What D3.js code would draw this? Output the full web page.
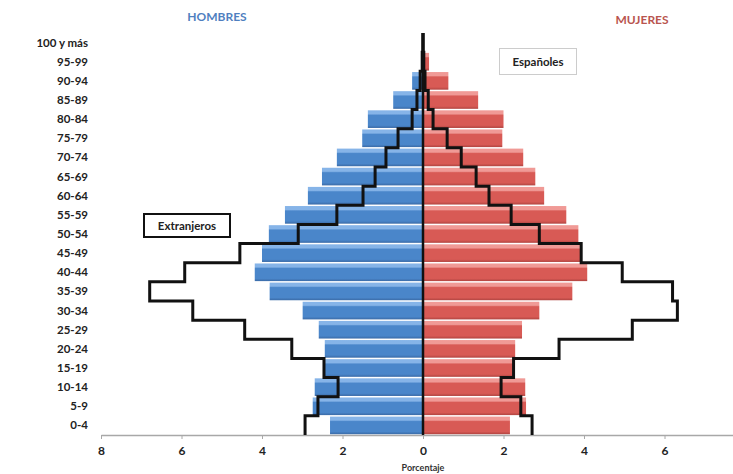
<!DOCTYPE html>
<html>
<head>
<meta charset="utf-8">
<script src="https://cdn.jsdelivr.net/npm/d3@7"></script>
<style>
  body { margin: 0; background: #fff; }
  svg { display: block; font-family: Lato, "Open Sans", sans-serif; }
</style>
</head>
<body>
<svg id="canvas" width="733" height="474"></svg>
<script>
// grupos de edad, de abajo hacia arriba
let ages = ["0-4", "5-9", "10-14", "15-19", "20-24", "25-29", "30-34", "35-39", "40-44", "45-49",
    "50-54", "55-59", "60-64", "65-69", "70-74", "75-79", "80-84", "85-89", "90-94", "95-99", "100 y más"];

// porcentaje, españoles (barras)
let hombresEsp = [2.31, 2.74, 2.69, 2.44, 2.44, 2.59, 2.99, 3.81, 4.18, 4.00, 3.83, 3.43, 2.86, 2.51, 2.14, 1.51, 1.37, 0.74, 0.27, 0.05, 0.01];
let mujeresEsp = [2.16, 2.56, 2.54, 2.24, 2.29, 2.46, 2.89, 3.71, 4.08, 3.95, 3.86, 3.56, 3.01, 2.79, 2.49, 1.97, 2.00, 1.37, 0.63, 0.15, 0.02];

// porcentaje, extranjeros (línea escalonada)
let hombresExt = [2.93, 2.61, 2.11, 2.46, 3.26, 4.43, 5.72, 6.79, 5.92, 4.55, 3.10, 2.14, 1.49, 1.19, 0.92, 0.62, 0.27, 0.15, 0.07, 0.02, 0];
let mujeresExt = [2.71, 2.43, 1.94, 2.25, 3.38, 5.20, 6.32, 6.20, 4.95, 3.93, 2.89, 2.19, 1.64, 1.32, 0.95, 0.60, 0.25, 0.13, 0.05, 0.02, 0];

let xTicks = [-8, -6, -4, -2, 0, 2, 4, 6];

let canvas = d3.select("#canvas");

let x = d3.scaleLinear().domain([-8, 8]).range([101, 745]);
let y = d3.scaleBand().domain(ages).range([435, 33]);

// degradados para el efecto de bisel
let defs = canvas.append("defs");
let makeGrad = (id, light, main, dark) => {
    let g = defs.append("linearGradient").attr("id", id)
        .attr("x1", 0).attr("y1", 0).attr("x2", 0).attr("y2", 1);
    g.append("stop").attr("offset", "0%").attr("stop-color", light);
    g.append("stop").attr("offset", "20%").attr("stop-color", light);
    g.append("stop").attr("offset", "28%").attr("stop-color", main);
    g.append("stop").attr("offset", "85%").attr("stop-color", main);
    g.append("stop").attr("offset", "100%").attr("stop-color", dark);
};
makeGrad("gBlue", "#86b4e8", "#4a86ca", "#3a6aa6");
makeGrad("gRed", "#f09a96", "#d85a55", "#b04440");

let pad = 1.5;
let bh = y.bandwidth() - pad;

canvas.selectAll(".hombre")
    .data(ages)
    .enter()
    .append("rect")
    .attr("class", "hombre")
    .attr("x", (d, i) => x(-hombresEsp[i]))
    .attr("y", (d) => y(d) + pad / 2)
    .attr("width", (d, i) => x(0) - x(-hombresEsp[i]))
    .attr("height", bh)
    .attr("fill", "url(#gBlue)");

canvas.selectAll(".mujer")
    .data(ages)
    .enter()
    .append("rect")
    .attr("class", "mujer")
    .attr("x", x(0))
    .attr("y", (d) => y(d) + pad / 2)
    .attr("width", (d, i) => x(mujeresEsp[i]) - x(0))
    .attr("height", bh)
    .attr("fill", "url(#gRed)");

// eje x
let axis = d3.axisBottom(x)
    .tickValues(xTicks)
    .tickFormat((d) => Math.abs(d))
    .tickSize(4)
    .tickSizeOuter(0);

let axisG = canvas.append("g")
    .attr("transform", "translate(0,435)")
    .call(axis);
axisG.select(".domain").attr("stroke", "#a8a8a8").attr("stroke-width", 1.5);
axisG.selectAll(".tick line").attr("stroke", "#a8a8a8");
axisG.selectAll(".tick text")
    .attr("dy", "1.1em")
    .style("font-size", "12px")
    .style("font-weight", "bold")
    .style("font-family", "Lato, sans-serif")
    .attr("fill", "#222");

// etiquetas de edad
canvas.selectAll(".age")
    .data(ages)
    .enter()
    .append("text")
    .attr("class", "age")
    .attr("x", 88)
    .attr("y", (d) => y(d) + y.bandwidth() / 2)
    .attr("dy", "0.35em")
    .attr("text-anchor", "end")
    .style("font-size", "11.5px")
    .style("font-weight", "bold")
    .attr("fill", "#222")
    .text((d) => d);

// linea escalonada de extranjeros
let stepPoints = (vals, sign) => {
    let pts = [];
    ages.forEach((a, i) => {
        pts.push([x(sign * vals[i]), y(a) + y.bandwidth()]);
        pts.push([x(sign * vals[i]), y(a)]);
    });
    return pts;
};
let line = d3.line();

canvas.append("path")
    .attr("d", line(stepPoints(hombresExt, -1)))
    .attr("fill", "none")
    .attr("stroke", "#111")
    .attr("stroke-width", 3);

canvas.append("path")
    .attr("d", line(stepPoints(mujeresExt, 1)))
    .attr("fill", "none")
    .attr("stroke", "#111")
    .attr("stroke-width", 3);

// linea central
canvas.append("line")
    .attr("x1", x(0)).attr("x2", x(0))
    .attr("y1", 33).attr("y2", 435)
    .attr("stroke", "#111")
    .attr("stroke-width", 2.5);

// titulos
canvas.append("text")
    .attr("x", 217).attr("y", 21)
    .attr("text-anchor", "middle")
    .style("font-size", "12px")
    .style("font-weight", "bold")
    .attr("fill", "#4f7fbf")
    .text("HOMBRES");

canvas.append("text")
    .attr("x", 642).attr("y", 24)
    .attr("text-anchor", "middle")
    .style("font-size", "12px")
    .style("font-weight", "bold")
    .attr("fill", "#b9554f")
    .text("MUJERES");

canvas.append("text")
    .attr("x", x(0)).attr("y", 471)
    .attr("text-anchor", "middle")
    .style("font-size", "9px")
    .style("font-weight", "bold")
    .attr("fill", "#333")
    .text("Porcentaje");

// cajas de leyenda
canvas.append("rect")
    .attr("x", 144).attr("y", 214).attr("width", 86).attr("height", 23)
    .attr("fill", "#fff").attr("stroke", "#111").attr("stroke-width", 2);
canvas.append("text")
    .attr("x", 187).attr("y", 226).attr("dy", "0.35em")
    .attr("text-anchor", "middle")
    .style("font-size", "11.5px")
    .style("font-weight", "bold")
    .attr("fill", "#222")
    .text("Extranjeros");

canvas.append("rect")
    .attr("x", 499.5).attr("y", 48.5).attr("width", 77).attr("height", 26)
    .attr("fill", "#fff").attr("stroke", "#ccc").attr("stroke-width", 1);
canvas.append("text")
    .attr("x", 538).attr("y", 62).attr("dy", "0.35em")
    .attr("text-anchor", "middle")
    .style("font-size", "11.5px")
    .style("font-weight", "bold")
    .attr("fill", "#222")
    .text("Españoles");
</script>
</body>
</html>
